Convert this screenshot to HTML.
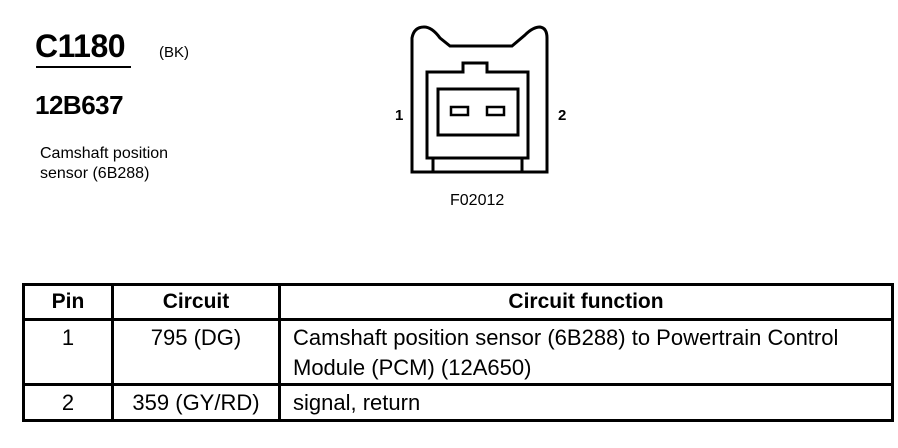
<!DOCTYPE html>
<html><head><style>
body{margin:0;width:898px;height:448px;background:#fff;position:relative;font-family:"Liberation Sans",sans-serif;color:#000;overflow:hidden}
.a{position:absolute;white-space:nowrap}
table{position:absolute;left:22px;top:283px;border-collapse:collapse;font-size:22px}
td{border:3px solid #000;padding:0;vertical-align:top;line-height:30px}
</style></head><body>
<div class="a" style="left:35px;top:28px;font-size:32px;font-weight:bold;letter-spacing:-0.5px">C1180</div>
<div style="position:absolute;left:36px;top:66px;width:95px;border-top:2px solid #000"></div>
<div class="a" style="left:159px;top:44px;font-size:15px">(BK)</div>
<div class="a" style="left:35px;top:90px;font-size:26px;font-weight:bold;letter-spacing:-0.5px">12B637</div>
<div class="a" style="left:40px;top:144px;font-size:16px;line-height:20px">Camshaft position<br>sensor (6B288)</div>
<div class="a" style="left:395px;top:107px;font-size:15px;font-weight:bold">1</div>
<div class="a" style="left:558px;top:107px;font-size:15px;font-weight:bold">2</div>
<div class="a" style="left:450px;top:192px;font-size:16px">F02012</div>
<svg style="position:absolute;left:0;top:0" width="898" height="448">
<g fill="none" stroke="#000" stroke-width="3">
<path d="M412,172 L412,38 Q414,27 424,27 Q432,27 440,38 L450,46 L512,46 L525,35 Q533,27 540,27 Q547,28 547,38 L547,172 Z"/>
<path d="M427,158 L427,72 L463,72 L463,63 L487,63 L487,72 L528,72 L528,158 Z"/>
<rect x="438" y="89" width="80" height="46"/>
<rect x="451" y="107" width="17" height="8" stroke-width="2.5"/>
<rect x="487" y="107" width="17" height="8" stroke-width="2.5"/>
<path d="M433,158 L433,172 M522,158 L522,172"/>
</g></svg>
<table>
<tr style="height:35px"><td style="width:86px;text-align:center;font-weight:bold;vertical-align:middle;font-size:21px">Pin</td><td style="width:164px;text-align:center;font-weight:bold;vertical-align:middle;font-size:21px">Circuit</td><td style="width:610px;text-align:center;font-weight:bold;vertical-align:middle;font-size:21px">Circuit function</td></tr>
<tr style="height:65px"><td style="text-align:center;padding-top:2px">1</td><td style="text-align:center;padding-top:2px">795 (DG)</td><td style="padding:2px 0 0 12px">Camshaft position sensor (6B288) to Powertrain Control<br>Module (PCM) (12A650)</td></tr>
<tr style="height:36px"><td style="text-align:center;vertical-align:middle">2</td><td style="text-align:center;vertical-align:middle">359 (GY/RD)</td><td style="padding-left:12px;vertical-align:middle">signal, return</td></tr>
</table>
</body></html>
